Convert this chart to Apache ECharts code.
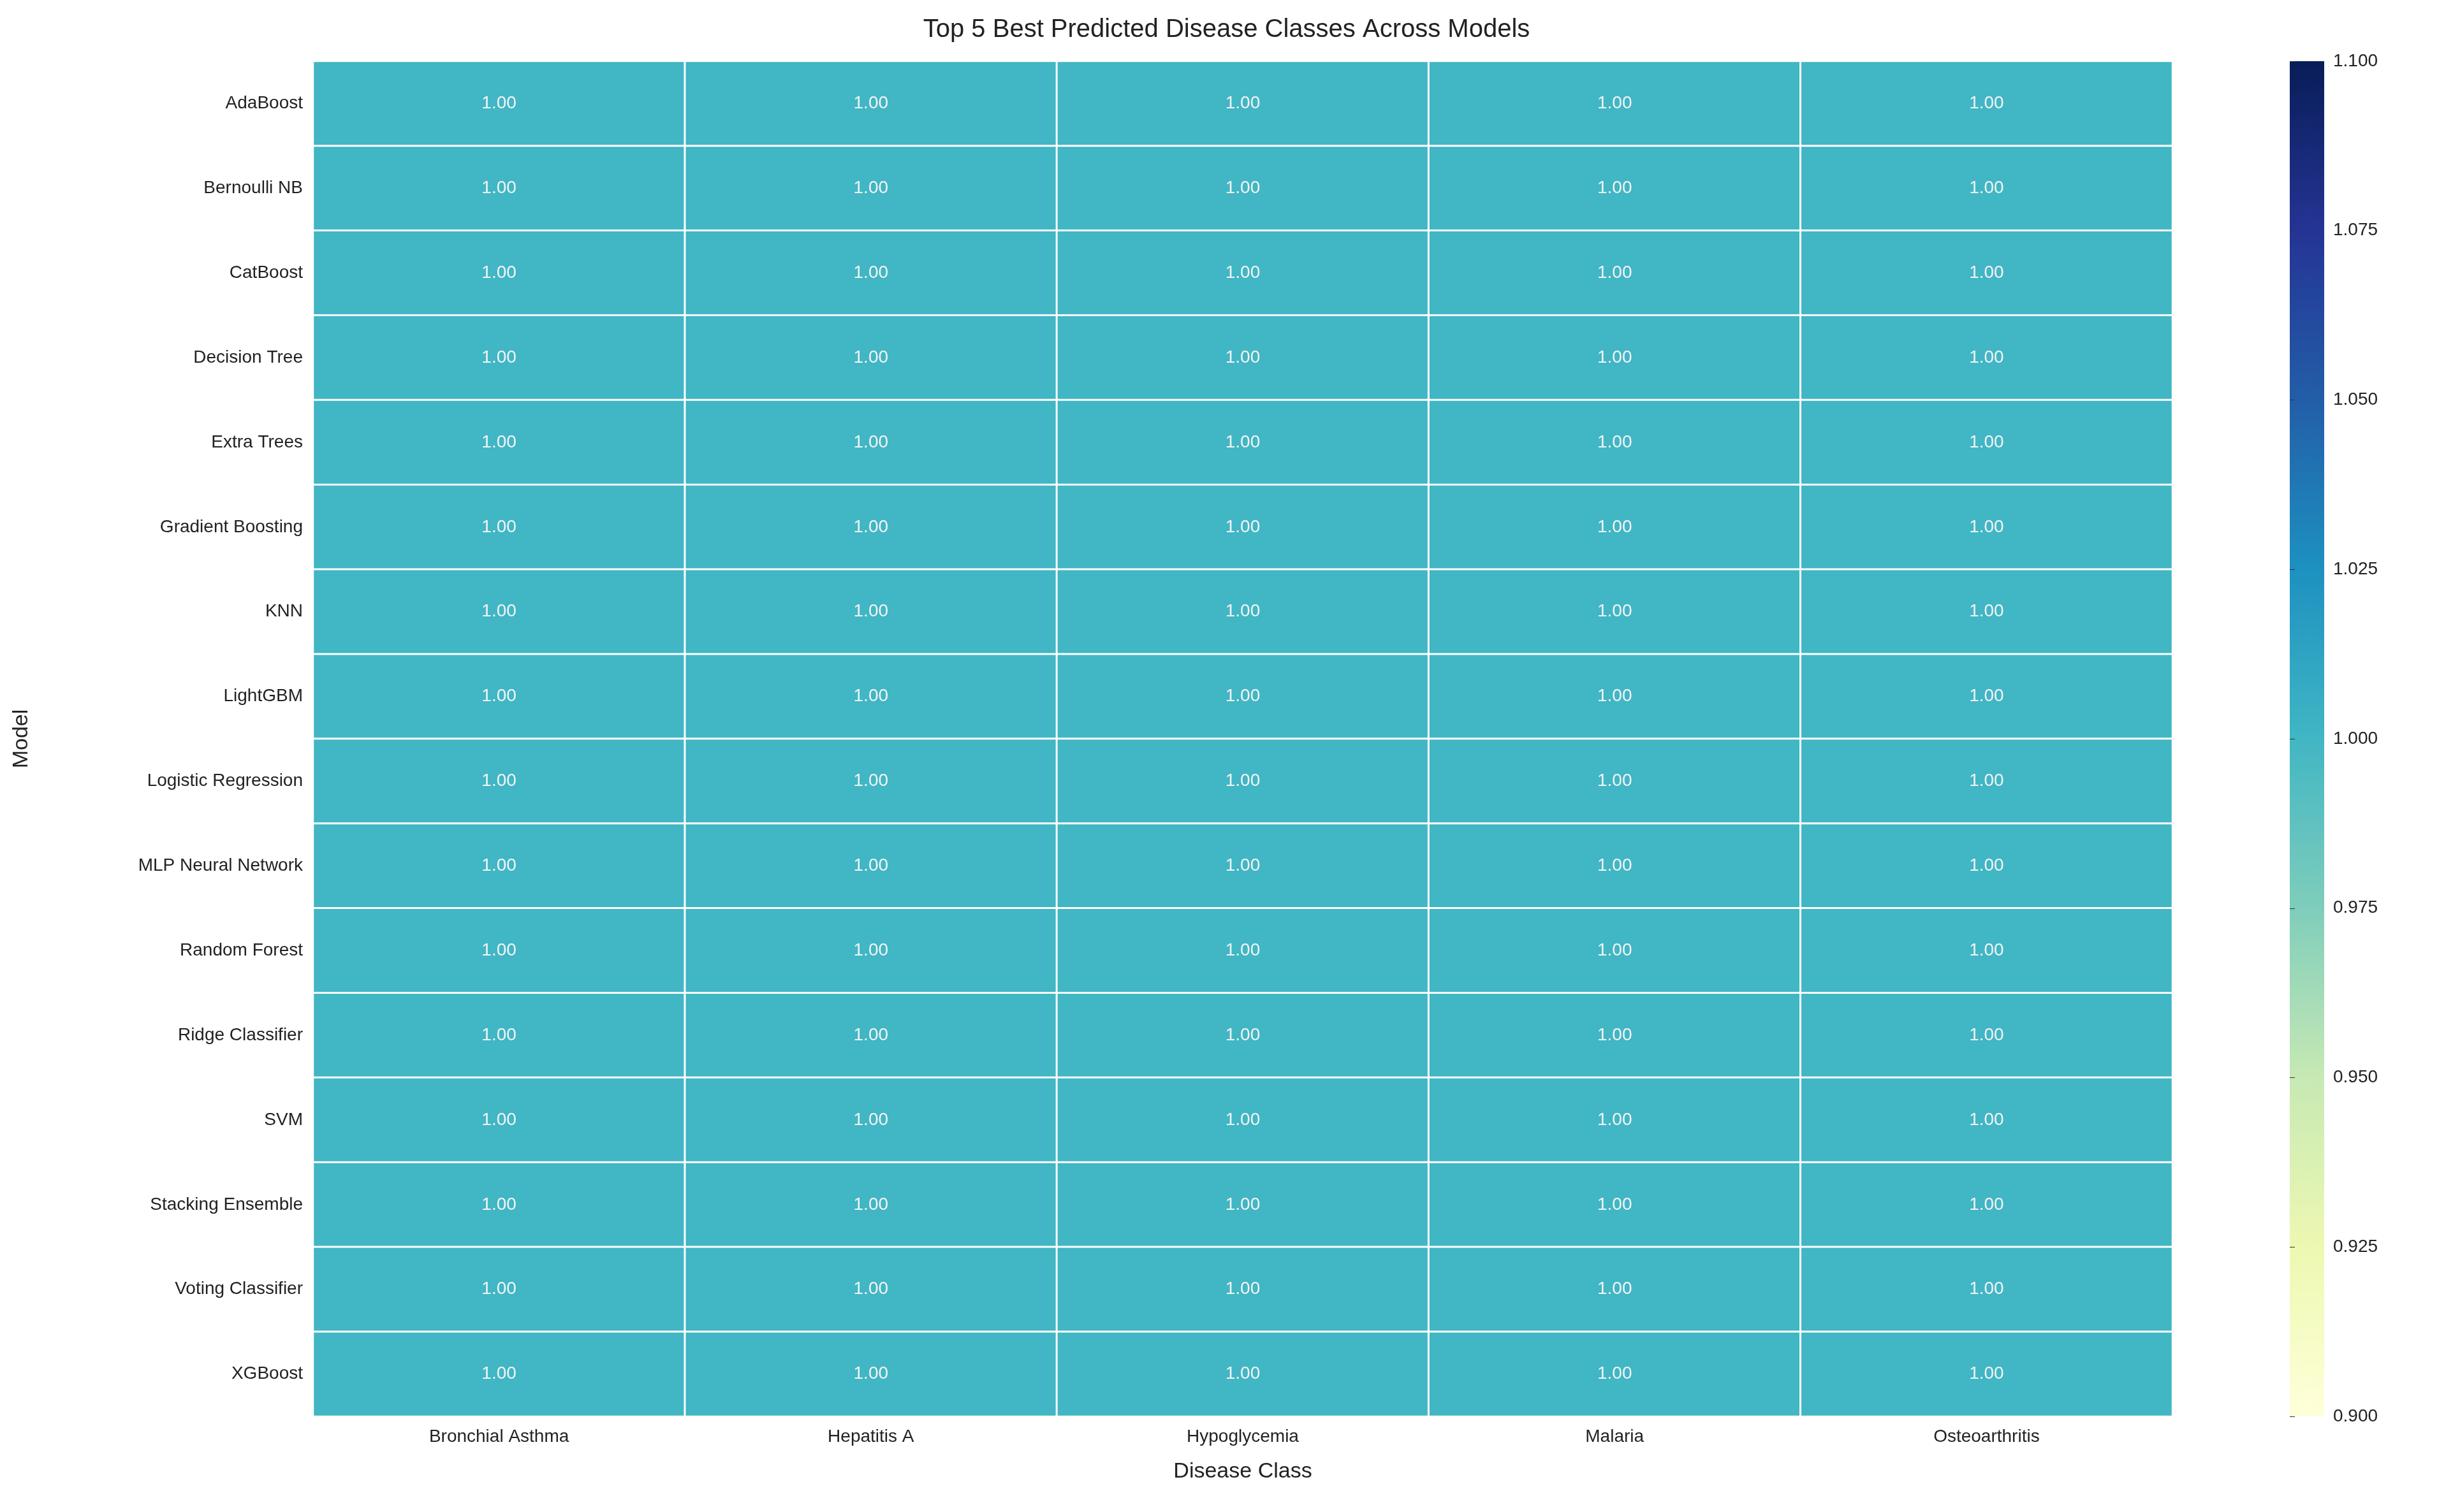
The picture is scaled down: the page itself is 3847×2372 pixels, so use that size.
<!DOCTYPE html>
<html><head><meta charset="utf-8">
<script src="https://cdn.jsdelivr.net/npm/echarts@6/dist/echarts.min.js"></script>
<style>html,body{margin:0;padding:0;background:#fff}#c{width:3847px;height:2372px}</style>
</head><body><div id="c"></div>
<script>
const diseases = ["Bronchial Asthma","Hepatitis A","Hypoglycemia","Malaria","Osteoarthritis"];
const models = ["AdaBoost","Bernoulli NB","CatBoost","Decision Tree","Extra Trees","Gradient Boosting","KNN","LightGBM","Logistic Regression","MLP Neural Network","Random Forest","Ridge Classifier","SVM","Stacking Ensemble","Voting Classifier","XGBoost"];
const scores = models.map(() => [1.00,1.00,1.00,1.00,1.00]);
const colorbarTicks = [0.900,0.925,0.950,0.975,1.000,1.025,1.050,1.075,1.100];
const ylgnbu = ['#ffffd9','#edf8b1','#c7e9b4','#7fcdbb','#41b6c4','#1d91c0','#225ea8','#253494','#081d58'];

const data = [];
models.forEach((m,i)=>diseases.forEach((d,j)=>data.push([j,i,scores[i][j]])));
const font = 'Liberation Sans, Arial, sans-serif';
const chart = echarts.init(document.getElementById('c'));
chart.setOption({
  backgroundColor:'#fff',
  title:{text:'Top 5 Best Predicted Disease Classes Across Models',left:'center',top:22,textStyle:{fontFamily:font,fontSize:40,fontWeight:'normal',color:'#222'}},
  grid:[{left:491,right:440,top:96,bottom:150},{left:3591,width:54,top:96,bottom:150}],
  xAxis:[{type:'category',data:diseases,gridIndex:0,name:'Disease Class',nameLocation:'middle',nameGap:70,
    nameTextStyle:{fontFamily:font,fontSize:34,color:'#222'},axisLine:{show:false},axisTick:{show:false},
    axisLabel:{fontFamily:font,fontSize:28,color:'#222',margin:18},splitLine:{show:false}},
    {type:'value',gridIndex:1,show:false,min:0,max:1}],
  yAxis:[{type:'category',data:models,inverse:true,gridIndex:0,name:'Model',nameLocation:'middle',nameGap:440,
    nameTextStyle:{fontFamily:font,fontSize:34,color:'#222'},axisLine:{show:false},axisTick:{show:false},
    axisLabel:{fontFamily:font,fontSize:28,color:'#222',margin:16}},
    {type:'value',gridIndex:1,position:'right',min:0.9,max:1.1,interval:0.025,
    axisLine:{show:false},axisTick:{show:true,length:8,lineStyle:{color:'#333'}},splitLine:{show:false},
    axisLabel:{fontFamily:font,fontSize:28,color:'#222',margin:14,formatter:v=>v.toFixed(3)}}],
  visualMap:{type:'continuous',min:0.9,max:1.1,seriesIndex:0,show:false,inRange:{color:ylgnbu}},
  graphic:[{type:'rect',shape:{x:3591,y:96,width:54,height:2126},z:-1,
    style:{fill:new echarts.graphic.LinearGradient(0,1,0,0,ylgnbu.map((c,i)=>({offset:i/(ylgnbu.length-1),color:c})))}}],
  series:[{type:'heatmap',xAxisIndex:0,yAxisIndex:0,data:data,
    itemStyle:{borderColor:'#fff',borderWidth:3},
    label:{show:true,formatter:p=>p.value[2].toFixed(2),fontFamily:font,fontSize:28,color:'#f4f4f4'}}]
});
</script></body></html>
